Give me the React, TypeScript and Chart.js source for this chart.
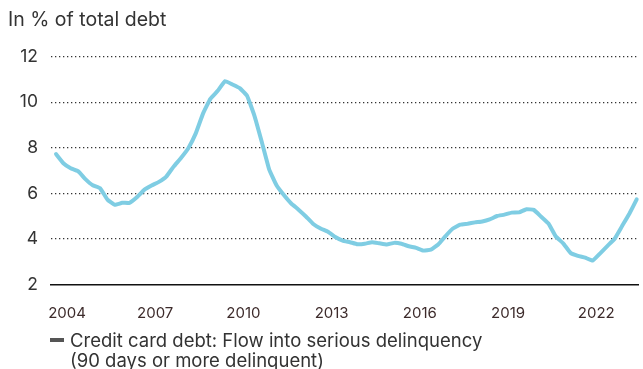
import { useEffect, useRef } from "react";
import { Chart, registerables } from "chart.js";
Chart.register(...registerables);

// Quarterly series, first observation 2003 Q3
const startYear = 2003;
const startQuarter = 3;
const delinquencyRate = [
  7.72, 7.32, 7.1, 6.97, 6.62, 6.35, 6.22, 5.72, 5.49, 5.58,
  5.58, 5.82, 6.15, 6.34, 6.5, 6.73, 7.17, 7.55, 7.98, 8.62,
  9.5, 10.15, 10.5, 10.93, 10.78, 10.62, 10.28, 9.4, 8.25, 7.05,
  6.35, 5.92, 5.55, 5.28, 4.98, 4.65, 4.45, 4.31, 4.08, 3.92,
  3.85, 3.76, 3.78, 3.85, 3.8, 3.75, 3.82, 3.78, 3.67, 3.6,
  3.48, 3.52, 3.75, 4.12, 4.45, 4.62, 4.66, 4.72, 4.76, 4.85,
  5.0, 5.06, 5.15, 5.16, 5.3, 5.27, 4.97, 4.67, 4.1, 3.8,
  3.38, 3.25, 3.17, 3.04, 3.35, 3.68, 4.0, 4.55, 5.1, 5.73,
];
const xTickYears = [2004, 2007, 2010, 2013, 2016, 2019, 2022];
const yTickValues = [2, 4, 6, 8, 10, 12];
const titleText = "In % of total debt";
const legendLines = [
  "Credit card debt: Flow into serious delinquency",
  "(90 days or more delinquent)",
];

const FONT = "Inter, 'Noto Sans', sans-serif";

export default function App() {
  const ref = useRef<HTMLCanvasElement>(null);

  useEffect(() => {
    const points = delinquencyRate.map((v, i) => ({
      x: startYear + (startQuarter - 1) / 4 + i / 4 + 0.125,
      y: v,
    }));
    const chart = new Chart(ref.current!, {
      type: "line",
      data: {
        datasets: [
          {
            data: points,
            borderColor: "#7fcde3",
            borderWidth: 4,
            pointRadius: 0,
            tension: 0.1,
            borderJoinStyle: "round",
            borderCapStyle: "round",
            clip: 8,
          } as any,
        ],
      },
      options: {
        animation: false,
        responsive: false,
        maintainAspectRatio: false,
        layout: { padding: { left: 0, right: 5, top: 56.7, bottom: 44.7 } },
        plugins: { legend: { display: false }, tooltip: { enabled: false } },
        scales: {
          x: {
            type: "linear",
            min: 2003.455,
            max: 2023.42,
            afterBuildTicks: (s: any) => {
              s.ticks = xTickYears.map((v) => ({ value: v }));
            },
            afterFit: (s: any) => {
              s.height = 40;
            },
            grid: { display: false },
            border: { display: true, color: "#111", width: 1.5 },
            ticks: {
              padding: 12,
              color: "#3d2b2b",
              font: { family: FONT, size: 15 },
              maxRotation: 0,
              autoSkip: false,
              callback: (v: any) => String(v),
            },
          },
          y: {
            min: 2,
            max: 12,
            afterBuildTicks: (s: any) => {
              s.ticks = yTickValues.map((v) => ({ value: v }));
            },
            afterFit: (s: any) => {
              s.width = 51;
            },
            grid: {
              color: (c: any) => (c.tick && c.tick.value === 2 ? "rgba(0,0,0,0)" : "#333"),
              lineWidth: 1.3,
              drawTicks: false,
            },
            border: { display: false, dash: [1.3, 2.7] },
            ticks: {
              padding: 13,
              color: "#333",
              font: { family: FONT, size: 17.5 },
            },
          },
        },
      },
    });
    return () => chart.destroy();
  }, []);

  return (
    <div style={{ position: "absolute", left: 0, top: 0, width: 643, height: 369, background: "#fff", overflow: "hidden" }}>
      <canvas ref={ref} width={643} height={369} style={{ position: "absolute", left: 0, top: 0, width: 643, height: 369 }} />
      <div style={{ position: "absolute", left: 8, top: 9.5, font: `19.5px ${FONT}`, lineHeight: "19.5px", color: "#333", whiteSpace: "nowrap" }}>
        {titleText}
      </div>
      <div style={{ position: "absolute", left: 50, top: 338, width: 14, height: 3.5, background: "#555" }} />
      <div style={{ position: "absolute", left: 70, top: 330.3, font: `18.5px ${FONT}`, lineHeight: "20px", color: "#333", whiteSpace: "nowrap" }}>
        {legendLines.map((l, i) => (
          <div key={i}>{l}</div>
        ))}
      </div>
    </div>
  );
}
